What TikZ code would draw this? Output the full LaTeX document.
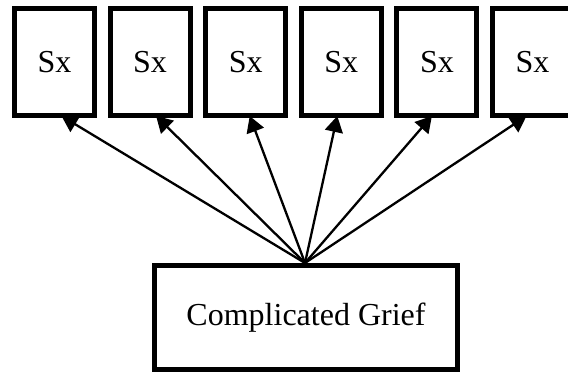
\documentclass[tikz,border=0pt]{standalone}
\usepackage{fontspec}
\setmainfont{Liberation Serif}
\usetikzlibrary{arrows.meta}
\begin{document}
\begin{tikzpicture}[x=1pt,y=-1pt,
  sxbox/.style={draw=black,line width=5pt,minimum width=80pt,minimum height=107pt,inner sep=0pt,
    font=\fontsize{32}{36}\selectfont},
  cgbox/.style={draw=black,line width=5pt,minimum width=303pt,minimum height=104pt,inner sep=0pt,
    font=\fontsize{32}{36}\selectfont},
  link/.style={draw=black,line width=2.3pt,-{Triangle[length=16pt,width=18pt]}}]
\useasboundingbox (0,0) rectangle (568,374);
\clip (0,0) rectangle (568,374);
\node[sxbox] (s1) at (54.5,62) {Sx};
\node[sxbox] (s2) at (150.1,62) {Sx};
\node[sxbox] (s3) at (245.7,62) {Sx};
\node[sxbox] (s4) at (341.3,62) {Sx};
\node[sxbox] (s5) at (436.9,62) {Sx};
\node[sxbox] (s6) at (532.5,62) {Sx};
\node[cgbox] (cg) at (306,317.5) {Complicated Grief};
\coordinate (hub) at ([xshift=-1pt]cg.north);
\draw[link] (hub) -- ([xshift=7pt,yshift=2pt]s1.south);
\draw[link] (hub) -- ([xshift=6pt,yshift=2pt]s2.south);
\draw[link] (hub) -- ([xshift=4pt,yshift=2pt]s3.south);
\draw[link] (hub) -- ([xshift=-4pt,yshift=2pt]s4.south);
\draw[link] (hub) -- ([xshift=-5pt,yshift=2pt]s5.south);
\draw[link] (hub) -- ([xshift=-6pt,yshift=2pt]s6.south);
\end{tikzpicture}
\end{document}
